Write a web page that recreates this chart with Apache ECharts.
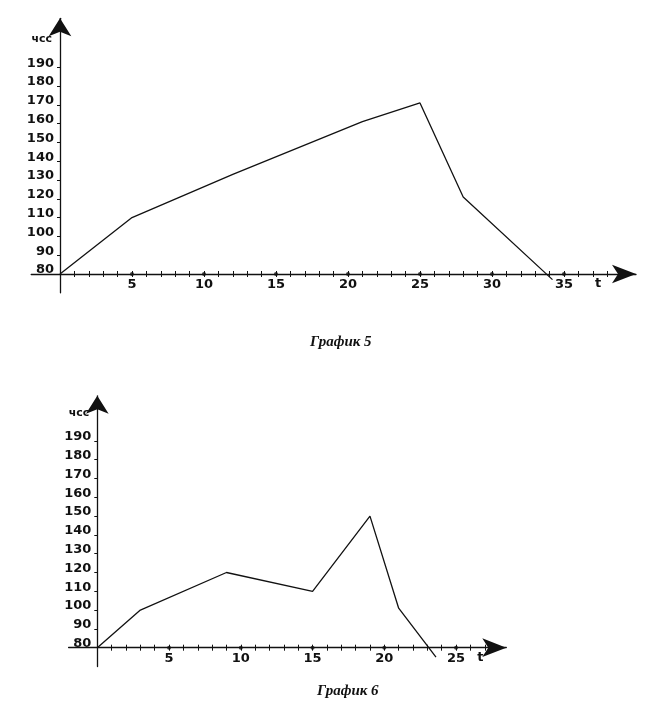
<!DOCTYPE html>
<html>
<head>
<meta charset="utf-8">
<script src="https://cdn.jsdelivr.net/npm/echarts@6/dist/echarts.min.js"></script>
<style>
  html, body { margin: 0; padding: 0; background: #fff; }
  #main { width: 667px; height: 715px; }
</style>
</head>
<body>
<div id="main"></div>
<script>
// graph 5: heart rate (чсс) over time t
var pulse5 = [[0, 80], [5, 110], [12, 133], [21, 161], [25, 171], [28, 121], [34.2, 77]];
// graph 6
var pulse6 = [[0, 80], [3, 100], [9, 120], [15, 110], [19, 150], [21, 101], [23.6, 75]];

var yTicks = [80, 90, 100, 110, 120, 130, 140, 150, 160, 170, 180, 190];
var xTicks5 = [];
for (var i = 1; i <= 39; i++) xTicks5.push(i);
var xTicks6 = [];
for (var j = 1; j <= 27; j++) xTicks6.push(j);
var xLabels5 = [5, 10, 15, 20, 25, 30, 35];
var xLabels6 = [5, 10, 15, 20, 25];

var ink = '#111';
var labelFont = { color: ink, fontFamily: 'DejaVu Sans', fontWeight: 'bold', fontSize: 13 };

// layout of the two plots (px)
var grids = [
  { left: 31.2, top: 18.3, width: 604.8, height: 274.5, yMin: 70, yMax: 216, xMin: -2, xMax: 40 },
  { left: 68.6, top: 395.8, width: 437.7, height: 270.7, yMin: 70, yMax: 214, xMin: -2, xMax: 28.5 }
];

function shiftX(g) {
  // lift the t axis from the grid bottom up to чсс = 80
  return -(80 - g.yMin) / (g.yMax - g.yMin) * g.height;
}
function shiftY(g) {
  // move the чсс axis from the grid left edge over to t = 0
  return -(0 - g.xMin) / (g.xMax - g.xMin) * g.width;
}

var myChart = echarts.init(document.getElementById('main'));

function xPair(gi, ticks, labels, nameGap) {
  var g = grids[gi];
  var base = {
    type: 'value', gridIndex: gi, min: g.xMin, max: g.xMax, interval: 1,
    position: 'bottom', offset: shiftX(g), splitLine: { show: false }
  };
  var main = Object.assign({}, base, {
    axisLine: { onZero: false, lineStyle: { color: ink, width: 1.3 }, symbol: ['none', 'arrow'], symbolSize: [14, 24] },
    axisTick: { customValues: ticks, length: 3, lineStyle: { color: ink } },
    axisLabel: Object.assign({ customValues: labels, margin: 4 }, labelFont),
    name: 't', nameLocation: 'end', nameGap: nameGap,
    nameTextStyle: Object.assign({}, labelFont, { align: 'center', verticalAlign: 'top', padding: [3, 0, 0, 0] })
  });
  var upper = Object.assign({}, base, {
    axisLine: { show: false, onZero: false },
    axisTick: { customValues: ticks, length: 3, inside: true, lineStyle: { color: ink } },
    axisLabel: { show: false }
  });
  return [main, upper];
}

function yAxisFor(gi, nameGap) {
  var g = grids[gi];
  return {
    type: 'value', gridIndex: gi, min: g.yMin, max: g.yMax, interval: 2,
    position: 'left', offset: shiftY(g),
    splitLine: { show: false },
    axisLine: { onZero: false, lineStyle: { color: ink, width: 1.3 }, symbol: ['none', 'arrow'], symbolSize: [17, 18] },
    axisTick: { customValues: yTicks, length: 3, lineStyle: { color: ink } },
    axisLabel: Object.assign({ customValues: yTicks, margin: 6, verticalAlign: 'bottom', lineHeight: 8 }, labelFont),
    name: 'чсс', nameLocation: 'end', nameGap: nameGap,
    nameTextStyle: Object.assign({}, labelFont, { fontSize: 11, align: 'right', padding: [0, 8, 0, 0] })
  };
}

function dots(labels) {
  return labels.map(function (t) { return [t, 80]; });
}

myChart.setOption({
  backgroundColor: '#fff',
  animation: false,
  title: [
    { text: 'График 5', left: 305, top: 330,
      textStyle: { fontFamily: 'Liberation Serif', fontStyle: 'italic', fontWeight: 'bold', fontSize: 15, color: ink } },
    { text: 'График 6', left: 312, top: 679,
      textStyle: { fontFamily: 'Liberation Serif', fontStyle: 'italic', fontWeight: 'bold', fontSize: 15, color: ink } }
  ],
  grid: grids.map(function (g) {
    return { left: g.left, top: g.top, width: g.width, height: g.height, containLabel: false };
  }),
  xAxis: xPair(0, xTicks5, xLabels5, -38).concat(xPair(1, xTicks6, xLabels6, -26)),
  yAxis: [yAxisFor(0, -26), yAxisFor(1, -23)],
  series: [
    { type: 'line', xAxisIndex: 0, yAxisIndex: 0, data: pulse5, symbol: 'none', clip: false,
      lineStyle: { color: ink, width: 1.3 } },
    { type: 'scatter', xAxisIndex: 0, yAxisIndex: 0, data: dots(xLabels5), symbolSize: 4,
      itemStyle: { color: ink } },
    { type: 'line', xAxisIndex: 2, yAxisIndex: 1, data: pulse6, symbol: 'none', clip: false,
      lineStyle: { color: ink, width: 1.3 } },
    { type: 'scatter', xAxisIndex: 2, yAxisIndex: 1, data: dots(xLabels6), symbolSize: 4,
      itemStyle: { color: ink } }
  ]
});
window.onresize = function () {
  myChart.resize();
};
</script>
</body>
</html>
